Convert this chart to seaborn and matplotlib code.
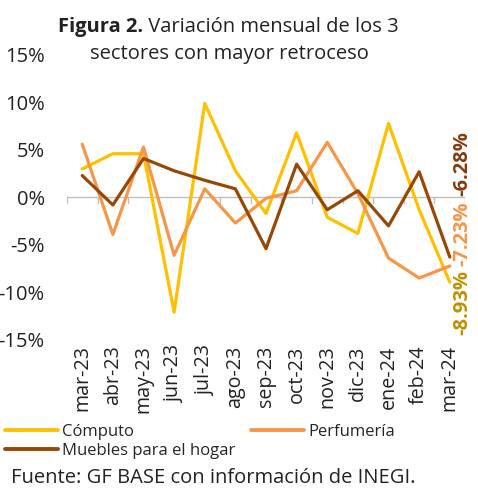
import pandas as pd
import matplotlib.pyplot as plt
import seaborn as sns
from matplotlib.lines import Line2D

# datos (variación mensual, %)
meses = ["mar-23", "abr-23", "may-23", "jun-23", "jul-23", "ago-23", "sep-23",
         "oct-23", "nov-23", "dic-23", "ene-24", "feb-24", "mar-24"]
computo = [3.0, 4.6, 4.6, -12.1, 9.9, 2.8, -1.7, 6.8, -2.1, -3.8, 7.8, -1.3, -8.93]
perfumeria = [5.6, -3.9, 5.3, -6.1, 0.9, -2.7, -0.1, 0.7, 5.8, 0.4, -6.4, -8.5, -7.23]
muebles = [2.3, -0.8, 4.1, 2.8, 1.8, 0.9, -5.4, 3.5, -1.3, 0.7, -3.0, 2.7, -6.28]

series = ["Cómputo", "Perfumería", "Muebles para el hogar"]
colores = ["#FFC000", "#F79646", "#974706"]
colores_etiqueta = ["#BF9000", "#F79646", "#843C0C"]

df = pd.DataFrame({
    "mes": meses * 3,
    "x": list(range(len(meses))) * 3,
    "valor": computo + perfumeria + muebles,
    "serie": [s for s in series for _ in meses],
})

sns.set_style("white")
plt.rcParams["font.family"] = ["Open Sans", "DejaVu Sans"]

fig = plt.figure(figsize=(4.78, 4.91), dpi=100)
ax = fig.add_axes([0.140, 0.308, 0.833, 0.580])

sns.lineplot(data=df, x="x", y="valor", hue="serie", hue_order=series,
             palette=colores, linewidth=2.3, ax=ax, legend=False)

ax.set_xlim(-0.5, len(meses) - 0.5)
ax.set_ylim(-15, 15)
ax.set_yticks([-15, -10, -5, 0, 5, 10, 15])
ax.set_yticklabels([f"{v}%" for v in [-15, -10, -5, 0, 5, 10, 15]], fontsize=14.5, color="#222222")
ax.set_xticks(range(len(meses)))
ax.set_xticklabels(meses, rotation=90, fontsize=14.2, color="#222222")
ax.tick_params(axis="both", length=0, pad=4)
ax.tick_params(axis="y", pad=16)
ax.set_xlabel("")
ax.set_ylabel("")
for s in ax.spines.values():
    s.set_visible(False)

# eje en cero con marcas entre categorías
ax.axhline(0, color="#BFBFBF", linewidth=1, zorder=0)
for i in range(len(meses) + 1):
    ax.plot([i - 0.5, i - 0.5], [0, -0.55], color="#BFBFBF", linewidth=1, zorder=0)

# etiquetas del último valor
ultimos = [computo[-1], perfumeria[-1], muebles[-1]]
for k, (v, c) in enumerate(zip(ultimos, colores_etiqueta)):
    fig.text(0.968, 0.317 + k * 0.142, f"{v:.2f}%", rotation=90, color=c,
             fontsize=14.5, fontweight="bold", ha="center", va="bottom")

# título
t1 = fig.text(0.121, 0.945, "Figura 2.", fontsize=14.5, fontweight="bold",
              ha="left", va="center", color="#222222")
fig.canvas.draw()
bb = t1.get_window_extent(fig.canvas.get_renderer())
fig.text(bb.x1 / fig.bbox.width, 0.945, " Variación mensual de los 3", fontsize=14.5,
         ha="left", va="center", color="#222222")
fig.text(0.48, 0.89, "sectores con mayor retroceso", fontsize=14.5,
         ha="center", va="center", color="#222222")

# leyenda
h = [Line2D([], [], color=c, linewidth=2.8) for c in colores]
fig.legend([h[0], h[2], h[1]], [series[0], series[2], series[1]], ncol=2,
           loc="upper left", bbox_to_anchor=(0.01, 0.137), frameon=False,
           fontsize=12, handlelength=3.2, handletextpad=0.25, columnspacing=0.9,
           labelspacing=0.2, borderaxespad=0, borderpad=0)

fig.text(0.022, 0.016, "Fuente: GF BASE con información de INEGI.", fontsize=14.5,
         ha="left", va="baseline", color="#222222")

fig.savefig("out.png", dpi=100)
